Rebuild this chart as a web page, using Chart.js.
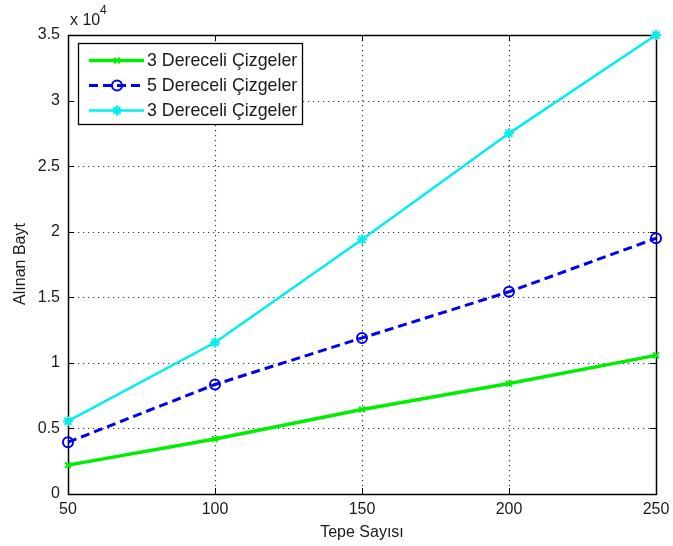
<!DOCTYPE html>
<html>
<head>
<meta charset="utf-8">
<script src="https://cdn.jsdelivr.net/npm/chart.js@4"></script>
<style>
html,body{margin:0;padding:0;background:#fff;}
#wrap{position:relative;width:673px;height:546px;}
</style>
</head>
<body>
<div id="wrap"><canvas id="c" width="673" height="546"></canvas></div>
<script>
// ---- data ----
const xValues = [50, 100, 150, 200, 250];
const series1Label = "3 Dereceli Çizgeler";
const series2Label = "5 Dereceli Çizgeler";
const series3Label = "3 Dereceli Çizgeler";
const series1 = [2200, 4200, 6450, 8420, 10570];
const series2 = [3950, 8350, 11900, 15420, 19500];
const series3 = [5550, 11550, 19400, 27500, 35000];
const xTicks = [50, 100, 150, 200, 250];
const yTicks = [0, 5000, 10000, 15000, 20000, 25000, 30000, 35000];
const xTitle = "Tepe Sayısı";
const yTitle = "Alınan Bayt";
const yExponent = "4";

const FONT = "'Liberation Sans', Arial, Helvetica, sans-serif";
const TEXT = '#1a1a1a';

function pts(arr){ return arr.map((v,i)=>({x:xValues[i], y:v})); }

const dsStyles = [
  {color:'#00ee00', width:3.5, dash:[], marker:'crossRot', r:4},
  {color:'#0000ee', width:3, dash:[9,5], marker:'circle', r:5},
  {color:'#00eeee', width:2.5, dash:[], marker:'star', r:5}
];

const frame = {
  id:'frame',
  beforeDatasetsDraw(chart){
    const ctx = chart.ctx, a = chart.chartArea;
    const xs = chart.scales.x, ys = chart.scales.y;
    ctx.save();
    // dotted grid
    ctx.strokeStyle = '#333';
    ctx.lineWidth = 1.2;
    ctx.setLineDash([1.2,3.8]);
    xTicks.forEach(v=>{
      const p = Math.round(xs.getPixelForValue(v))+0.5;
      if (v===xTicks[0]||v===xTicks[xTicks.length-1]) return;
      ctx.beginPath(); ctx.moveTo(p,a.top); ctx.lineTo(p,a.bottom); ctx.stroke();
    });
    yTicks.forEach(v=>{
      const p = Math.round(ys.getPixelForValue(v))+0.5;
      if (v===yTicks[0]||v===yTicks[yTicks.length-1]) return;
      ctx.beginPath(); ctx.moveTo(a.left,p); ctx.lineTo(a.right,p); ctx.stroke();
    });
    ctx.setLineDash([]);
    // inward ticks
    ctx.strokeStyle = '#000';
    ctx.lineWidth = 1;
    const tl = 6;
    xTicks.forEach(v=>{
      const p = Math.round(xs.getPixelForValue(v))+0.5;
      ctx.beginPath(); ctx.moveTo(p,a.bottom); ctx.lineTo(p,a.bottom-tl); ctx.stroke();
      ctx.beginPath(); ctx.moveTo(p,a.top); ctx.lineTo(p,a.top+tl); ctx.stroke();
    });
    yTicks.forEach(v=>{
      const p = Math.round(ys.getPixelForValue(v))+0.5;
      ctx.beginPath(); ctx.moveTo(a.left,p); ctx.lineTo(a.left+tl,p); ctx.stroke();
      ctx.beginPath(); ctx.moveTo(a.right,p); ctx.lineTo(a.right-tl,p); ctx.stroke();
    });
    // box
    ctx.lineWidth = 1.5;
    ctx.strokeStyle = '#000';
    ctx.strokeRect(Math.round(a.left)+0.5, Math.round(a.top)+0.5, Math.round(a.right-a.left), Math.round(a.bottom-a.top));
    ctx.restore();
  },
  afterDraw(chart){
    const ctx = chart.ctx, a = chart.chartArea;
    ctx.save();
    ctx.fillStyle = TEXT;
    // axis titles
    ctx.font = '16px ' + FONT;
    ctx.textAlign = 'center';
    ctx.textBaseline = 'middle';
    ctx.fillText(xTitle, (a.left+a.right)/2, 533);
    ctx.save();
    ctx.translate(21, 264);
    ctx.rotate(-Math.PI/2);
    ctx.fillText(yTitle, 0, 0);
    ctx.restore();
    // exponent
    ctx.textAlign = 'left';
    ctx.font = '16px ' + FONT;
    ctx.fillText('x 10', 70, 21);
    ctx.font = '12px ' + FONT;
    ctx.fillText(yExponent, 100, 11);
    // legend
    const lx = 78.5, ly = 43.5, lw = 224, lh = 81;
    ctx.fillStyle = '#fff';
    ctx.fillRect(lx, ly, lw, lh);
    ctx.strokeStyle = '#000';
    ctx.lineWidth = 1.3;
    ctx.strokeRect(lx, ly, lw, lh);
    const labels = [series1Label, series2Label, series3Label];
    const rows = [60.5, 85.5, 110.5];
    labels.forEach((lab,i)=>{
      const s = dsStyles[i];
      const y = rows[i];
      ctx.save();
      ctx.strokeStyle = s.color;
      ctx.lineWidth = s.width;
      ctx.setLineDash(s.dash);
      ctx.beginPath(); ctx.moveTo(89,y); ctx.lineTo(144,y); ctx.stroke();
      ctx.setLineDash([]);
      ctx.lineWidth = 2;
      ctx.fillStyle = 'rgba(0,0,0,0)';
      Chart.helpers.drawPoint(ctx, {pointStyle:s.marker, radius:s.r, borderWidth:2, rotation:0}, 117, y);
      ctx.restore();
      ctx.fillStyle = TEXT;
      ctx.font = '17.8px ' + FONT;
      ctx.textAlign = 'left';
      ctx.textBaseline = 'middle';
      ctx.fillText(lab, 147, y+1);
    });
    ctx.restore();
  }
};

const datasets = [series1, series2, series3].map((arr,i)=>{
  const s = dsStyles[i];
  return {
    label: [series1Label, series2Label, series3Label][i],
    data: pts(arr),
    borderColor: s.color,
    backgroundColor: 'rgba(0,0,0,0)',
    borderWidth: s.width,
    borderDash: s.dash,
    pointStyle: s.marker,
    pointRadius: s.r,
    pointBorderWidth: 2,
    pointBorderColor: s.color,
    pointBackgroundColor: 'rgba(0,0,0,0)',
    tension: 0,
    clip: false,
    fill: false
  };
});

new Chart(document.getElementById('c'), {
  type: 'line',
  data: { datasets },
  options: {
    responsive: false,
    animation: false,
    devicePixelRatio: 1,
    layout: { padding: { top: 35, right: 0, bottom: 0, left: 0 } },
    plugins: { legend: { display: false }, tooltip: { enabled: false } },
    scales: {
      x: {
        type: 'linear',
        min: 50, max: 250,
        afterFit(scale){ scale.height = 52; scale.paddingRight = 17; scale.paddingLeft = 0; },
        afterBuildTicks(scale){ scale.ticks = xTicks.map(v=>({value:v})); },
        grid: { display: false, drawTicks: false },
        border: { display: false },
        ticks: { color: TEXT, font: { family: FONT, size: 16 }, padding: 6, maxRotation: 0, autoSkip: false }
      },
      y: {
        type: 'linear',
        min: 0, max: 35000,
        afterFit(scale){ scale.width = 68; scale.paddingTop = 0; scale.paddingBottom = 0; },
        afterBuildTicks(scale){ scale.ticks = yTicks.map(v=>({value:v})); },
        grid: { display: false, drawTicks: false },
        border: { display: false },
        ticks: { color: TEXT, font: { family: FONT, size: 16 }, padding: 8, autoSkip: false,
          callback: v => String(v/10000) }
      }
    }
  },
  plugins: [frame]
});
</script>
</body>
</html>
